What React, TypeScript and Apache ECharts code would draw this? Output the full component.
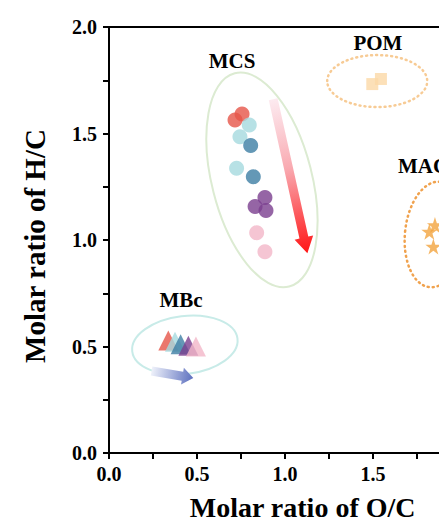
import React, { useEffect, useRef } from "react";
import * as echarts from "echarts";

// ---------- data ----------
const sampleColors = ["#e65549", "#a5d9de", "#3d7ea4", "#7a3f8e", "#f3b6c8"];

// MCS (circles)
const mcsX = [0.716, 0.756, 0.797, 0.744, 0.805, 0.725, 0.82, 0.886, 0.83, 0.892, 0.839, 0.886];
const mcsY = [1.563, 1.592, 1.54, 1.485, 1.444, 1.337, 1.297, 1.199, 1.157, 1.138, 1.034, 0.945];
const mcsSample = [0, 0, 1, 1, 2, 1, 2, 3, 3, 3, 4, 4];

// MBc (triangles)
const mbcX = [0.337, 0.375, 0.407, 0.451, 0.494];
const mbcY = [0.528, 0.522, 0.51, 0.503, 0.5];
const mbcSample = [0, 1, 2, 3, 4];

// POM (squares)
const pomX = [1.496, 1.545];
const pomY = [1.732, 1.756];

// MAC (stars)
const macX = [1.852, 1.82, 1.843];
const macY = [1.07, 1.039, 0.969];

// axis ticks
const xTicks = { min: 0, max: 2.2, interval: 0.5 };
const yTicks = { min: 0, max: 2.0, interval: 0.5 };
const xLabelLimit = 1.5;

// group labels (data coordinates)
const groupLabels = ["MCS", "POM", "MAC", "MBc"];
const groupLabelX = [0.699, 1.528, 1.784, 0.409];
const groupLabelY = [1.84, 1.925, 1.347, 0.718];

// ---------- styles ----------
const SERIF = '"Liberation Serif", "Times New Roman", serif';
const STAR =
  "path://M50,0 L61.8,35.1 L98.9,35.1 L68.9,56.8 L80.3,91.9 L50,70.2 L19.7,91.9 L31.1,56.8 L1.1,35.1 L38.2,35.1 Z";

function arrowPoints(p0: number[], p1: number[], w: number, hw: number, hl: number) {
  const dx = p1[0] - p0[0];
  const dy = p1[1] - p0[1];
  const len = Math.sqrt(dx * dx + dy * dy);
  const d = [dx / len, dy / len];
  const n = [-d[1], d[0]];
  const hb = [p1[0] - d[0] * hl, p1[1] - d[1] * hl];
  return [
    [p0[0] + n[0] * w, p0[1] + n[1] * w],
    [hb[0] + n[0] * w, hb[1] + n[1] * w],
    [hb[0] + n[0] * hw, hb[1] + n[1] * hw],
    [p1[0], p1[1]],
    [hb[0] - n[0] * hw, hb[1] - n[1] * hw],
    [hb[0] - n[0] * w, hb[1] - n[1] * w],
    [p0[0] - n[0] * w, p0[1] - n[1] * w],
  ];
}

export default function App() {
  const ref = useRef<HTMLDivElement>(null);

  useEffect(() => {
    if (!ref.current) return;
    const chart = echarts.init(ref.current, undefined, { renderer: "svg" });

    const labelStyle = {
      color: "#000",
      fontFamily: SERIF,
      fontWeight: "bold" as const,
      fontSize: 20,
    };

    const axisCommon = {
      axisLine: { show: true, onZero: false, lineStyle: { color: "#000", width: 2 } },
      axisTick: { show: true, inside: false, length: 6, lineStyle: { color: "#000", width: 2 } },
      minorTick: { show: true, splitNumber: 2, length: 6, lineStyle: { color: "#000", width: 2 } },
      splitLine: { show: false },
      minorSplitLine: { show: false },
    };

    chart.setOption({
      animation: false,
      backgroundColor: "#fff",
      grid: { left: 109, top: 27, width: 2.2 * 176, height: 426 },
      xAxis: [
        {
          type: "value",
          ...xTicks,
          ...axisCommon,
          axisLabel: {
            ...labelStyle,
            margin: 11,
            showMaxLabel: false,
            formatter: (v: number) => (v <= xLabelLimit + 1e-9 ? v.toFixed(1) : ""),
          },
          name: "Molar ratio of O/C",
          nameLocation: "middle",
          nameGap: 40,
          nameTextStyle: { color: "#000", fontFamily: SERIF, fontWeight: "bold", fontSize: 28 },
        },
        {
          type: "value",
          position: "top",
          ...xTicks,
          axisLine: { show: true, onZero: false, lineStyle: { color: "#000", width: 2 } },
          axisTick: { show: false },
          axisLabel: { show: false },
          splitLine: { show: false },
        },
      ],
      yAxis: {
        type: "value",
        ...yTicks,
        ...axisCommon,
        axisLabel: { ...labelStyle, margin: 12, formatter: (v: number) => v.toFixed(1) },
        name: "Molar ratio of H/C",
        nameLocation: "middle",
        nameGap: 60,
        nameTextStyle: {
          color: "#000",
          fontFamily: SERIF,
          fontWeight: "bold",
          fontSize: 29,
          padding: [0, 12, 0, 0],
        },
      },
      series: [
        {
          name: "MCS",
          type: "scatter",
          symbol: "circle",
          symbolSize: 15,
          z: 3,
          data: mcsX.map((x, i) => ({
            value: [x, mcsY[i]],
            itemStyle: { color: sampleColors[mcsSample[i]] },
          })),
        },
        {
          name: "MBc",
          type: "scatter",
          symbol: "triangle",
          symbolSize: 20,
          z: 3,
          data: mbcX.map((x, i) => ({
            value: [x, mbcY[i]],
            itemStyle: { color: sampleColors[mbcSample[i]] },
          })),
        },
        {
          name: "POM",
          type: "scatter",
          symbol: "rect",
          symbolSize: 12,
          z: 3,
          itemStyle: { color: "#fbd8a6" },
          data: pomX.map((x, i) => [x, pomY[i]]),
        },
        {
          name: "MAC",
          type: "scatter",
          symbol: STAR,
          symbolSize: 16,
          z: 3,
          itemStyle: { color: "#f3a43f" },
          data: macX.map((x, i) => [x, macY[i]]),
        },
      ],
    });

    const px = (p: number[]) => chart.convertToPixel({ gridIndex: 0 }, p) as number[];

    const graphics: any[] = [];

    // group ellipses
    const mcsC = px([0.869, 1.282]);
    graphics.push({
      type: "ellipse",
      x: mcsC[0],
      y: mcsC[1],
      rotation: 0.25,
      shape: { cx: 0, cy: 0, rx: 50, ry: 110 },
      style: { fill: "none", stroke: "#dcebd2", lineWidth: 2 },
      z: 1,
    });
    const mbcC = px([0.431, 0.507]);
    graphics.push({
      type: "ellipse",
      x: mbcC[0],
      y: mbcC[1],
      rotation: 0.12,
      shape: { cx: 0, cy: 0, rx: 53, ry: 29 },
      style: { fill: "none", stroke: "#c8ebe8", lineWidth: 2 },
      z: 1,
    });
    const pomC = px([1.524, 1.746]);
    graphics.push({
      type: "ellipse",
      x: pomC[0],
      y: pomC[1],
      shape: { cx: 0, cy: 0, rx: 50, ry: 26 },
      style: { fill: "none", stroke: "#f7cb95", lineWidth: 2.5, lineDash: [1, 4], lineCap: "round" },
      z: 1,
    });
    const macC = px([1.852, 1.026]);
    graphics.push({
      type: "ellipse",
      x: macC[0],
      y: macC[1],
      rotation: -0.1,
      shape: { cx: 0, cy: 0, rx: 30, ry: 53 },
      style: { fill: "none", stroke: "#f0a24e", lineWidth: 2.5, lineDash: [1, 4], lineCap: "round" },
      z: 1,
    });

    // arrows
    const r0 = px([0.933, 1.661]);
    const r1 = px([1.127, 0.938]);
    graphics.push({
      type: "polygon",
      shape: { points: arrowPoints(r0, r1, 4.5, 9.5, 16) },
      style: {
        fill: new echarts.graphic.LinearGradient(
          r0[0],
          r0[1],
          r1[0],
          r1[1],
          [
            { offset: 0, color: "rgba(252,232,238,0.9)" },
            { offset: 0.45, color: "#f9a9b0" },
            { offset: 1, color: "#ff1515" },
          ],
          true
        ),
      },
      z: 2,
    });
    const b0 = px([0.242, 0.385]);
    const b1 = px([0.479, 0.352]);
    graphics.push({
      type: "polygon",
      shape: { points: arrowPoints(b0, b1, 4.5, 8.5, 11) },
      style: {
        fill: new echarts.graphic.LinearGradient(
          b0[0],
          b0[1],
          b1[0],
          b1[1],
          [
            { offset: 0, color: "#eef1fa" },
            { offset: 1, color: "#5d70bf" },
          ],
          true
        ),
      },
      z: 2,
    });

    // group labels
    groupLabels.forEach((t, i) => {
      const p = px([groupLabelX[i], groupLabelY[i]]);
      graphics.push({
        type: "text",
        x: p[0],
        y: p[1],
        style: {
          text: t,
          fill: "#000",
          fontFamily: SERIF,
          fontWeight: "bold",
          fontSize: 21,
          align: "center",
          verticalAlign: "middle",
        },
        z: 5,
      });
    });

    chart.setOption({ graphic: { elements: graphics } });

    return () => chart.dispose();
  }, []);

  return (
    <div
      style={{
        position: "fixed",
        left: 0,
        top: 0,
        width: 439,
        height: 532,
        overflow: "hidden",
        background: "#fff",
      }}
    >
      <div ref={ref} style={{ width: 560, height: 532 }} />
    </div>
  );
}
